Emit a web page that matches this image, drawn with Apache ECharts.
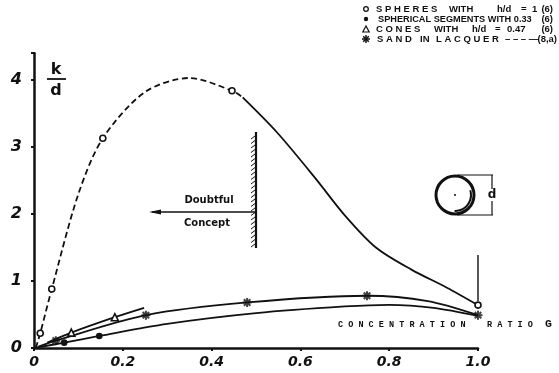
<!DOCTYPE html>
<html><head><meta charset="utf-8">
<script src="https://cdn.jsdelivr.net/npm/echarts@6/dist/echarts.min.js"></script>
<style>html,body{margin:0;padding:0;background:#fff}#c{width:559px;height:373px}</style>
</head><body><div id="c"></div>
<script>
// Spheres h/d = 1 : measured points and drawn curve
const sphereMarks = [[0.014,0.22],[0.04,0.88],[0.155,3.13],[0.446,3.84],[1.0,0.64]];
const sphereDashed = [[0.004,0],[0.014,0.22],[0.04,0.88],[0.1,2.3],[0.155,3.13],[0.25,3.82],[0.35,4.03],[0.446,3.84],[0.47,3.74]];
const sphereSolid = [[0.47,3.74],[0.547,3.22],[0.633,2.54],[0.7,1.98],[0.77,1.5],[0.85,1.17],[0.93,0.9],[1.0,0.64]];
// Spherical segments h/d = 0.33
const segmentMarks = [[0.068,0.08],[0.147,0.18]];
const segmentCurve = [[0,0],[0.068,0.08],[0.147,0.18],[0.3,0.36],[0.5,0.52],[0.7,0.62],[0.8,0.645],[0.9,0.6],[1.0,0.48]];
// Cones h/d = 0.47
const coneMarks = [[0.084,0.23],[0.182,0.46]];
const coneCurve = [[0.03,0.08],[0.084,0.23],[0.182,0.46],[0.248,0.6]];
// Sand in lacquer
const sandMarks = [[0.049,0.11],[0.252,0.49],[0.48,0.68],[0.75,0.78],[1.0,0.49]];
const sandCurve = [[0.01,0.02],[0.049,0.11],[0.252,0.49],[0.48,0.68],[0.75,0.78],[0.887,0.7],[1.0,0.49]];
// axis
const xTicks = [0,0.2,0.4,0.6,0.8,1.0];
const yTicks = [0,1,2,3,4];

const asterisk = 'path://M0,-5L0,5M-5,0L5,0M-3.6,-3.6L3.6,3.6M-3.6,3.6L3.6,-3.6';
const ink = '#111';
const lineSeries = (data, dashed) => ({type:'line', data, smooth:0.3, symbol:'none',
  lineStyle:{color:ink, width:1.8, type: dashed ? [6,3.5] : 'solid'}, silent:true, z:2});
const markSeries = (data, symbol, size, fill) => ({type:'scatter', data, symbol, symbolSize:size,
  itemStyle:{color:fill, borderColor:ink, borderWidth:1.6, opacity:1}, z:3, silent:true});

const chart = echarts.init(document.getElementById('c'), null, {renderer:'canvas'});
const hand = {fontFamily:'DejaVu Sans', fontStyle:'italic', fontWeight:'bold', color:ink, fontSize:14};
const lbl = {fontFamily:'Liberation Sans', fontWeight:'bold', fontSize:9.5, fill:ink};
const graphics = [];
const L = (x1,y1,x2,y2,w) => graphics.push({type:'line', shape:{x1,y1,x2,y2}, style:{stroke:ink, lineWidth:w||1.2}});
const T = (x,y,text,st,align) => graphics.push({type:'text', x, y, style:Object.assign({text, textAlign:align||'left', textVerticalAlign:'middle'}, st)});
// legend
[[376,'S P H E R E S'],[449,'WITH'],[497,'h/d'],[521,'='],[532,'1']].forEach(p => T(p[0],9,p[1],lbl));
T(378,19,'SPHERICAL SEGMENTS WITH 0.33',Object.assign({}, lbl, {fontSize:9.2}));
[[376,'C O N E S'],[434,'WITH'],[472,'h/d'],[495,'='],[507,'0.47']].forEach(p => T(p[0],29,p[1],lbl));
[[377,'S A N D'],[420,'IN'],[436,'L A C Q U E R'],[505,'– – – —']].forEach(p => T(p[0],39,p[1],lbl));
T(553,9,'(6)',lbl,'right'); T(553,19,'(6)',lbl,'right'); T(553,29,'(6)',lbl,'right'); T(557,39,'(8,a)',lbl,'right');
graphics.push({type:'circle', shape:{cx:366, cy:9, r:2.3}, style:{fill:'#fff', stroke:ink, lineWidth:1.3}});
graphics.push({type:'circle', shape:{cx:366, cy:19, r:2.2}, style:{fill:ink}});
graphics.push({type:'polygon', shape:{points:[[366,26],[362.8,32],[369.2,32]]}, style:{fill:'#fff', stroke:ink, lineWidth:1.2}});
L(366,35,366,43,1.5); L(362,39,370,39,1.5); L(363.2,36.2,368.8,41.8,1.5); L(363.2,41.8,368.8,36.2,1.5);
// k/d label
const big = {fontFamily:'DejaVu Sans', fontWeight:'bold', fontSize:16, fill:ink};
T(56,70,'k',big,'center');
L(47,79,66,79,1.8);
T(56,91,'d',big,'center');
// concentration ratio
const mono = {fontFamily:'Liberation Mono', fontWeight:'bold', fontSize:8.5, fill:ink};
T(338,325,'C O N C E N T R A T I O N',mono);
T(487,325,'R A T I O',mono);
T(545,324,'G',Object.assign({}, mono, {fontSize:11.5}));
// doubtful concept wall + arrow
L(256,132,256,248,2.2);
for (let y = 136; y < 248; y += 4.5) L(251, y+3, 255, y, 1);
L(152,212,255,212,1.6);
graphics.push({type:'polygon', shape:{points:[[149,212],[161,209.5],[161,214.5]]}, style:{fill:ink}});
const note = {fontFamily:'DejaVu Sans', fontWeight:'bold', fontSize:10, fill:ink};
T(209,200,'Doubtful',note,'center');
T(207,223,'Concept',note,'center');
// sphere sketch
graphics.push({type:'circle', shape:{cx:455, cy:195, r:19}, style:{fill:'#fff', stroke:ink, lineWidth:3}});
graphics.push({type:'arc', shape:{cx:455, cy:195, r:16, startAngle:-0.3, endAngle:1.6}, style:{stroke:ink, lineWidth:2, fill:null}});
graphics.push({type:'circle', shape:{cx:455, cy:195, r:1}, style:{fill:ink}});
L(457,175,493,175); L(457,215,493,215); L(492,175,492,215);
T(492,195,'d',{fontFamily:'DejaVu Sans', fontWeight:'bold', fontSize:12, fill:ink, backgroundColor:'#fff'},'center');
// vertical stroke above last sphere point
L(478,255,478,301,1.4);

chart.setOption({
  animation:false,
  backgroundColor:'#fff',
  grid:{left:34, right:81, top:53.2, bottom:25, containLabel:false},
  xAxis:{type:'value', min:0, max:1, interval:0.2,
    axisLine:{lineStyle:{color:ink, width:2.5}},
    axisTick:{show:true, length:3, lineStyle:{color:ink, width:2}},
    splitLine:{show:false},
    axisLabel:Object.assign({margin:7, formatter:v => xTicks.includes(+v.toFixed(1)) ? (v===0 ? '0' : v.toFixed(1)) : ''}, hand)},
  yAxis:{type:'value', min:0, max:4.4, interval:1,
    axisLine:{lineStyle:{color:ink, width:2.5}},
    axisTick:{show:true, length:3, lineStyle:{color:ink, width:2}},
    splitLine:{show:false},
    axisLabel:Object.assign({margin:12, formatter:v => yTicks.includes(v) ? String(v) : ''}, hand, {fontSize:16})},
  series:[
    lineSeries(sphereDashed, true),
    lineSeries(sphereSolid, false),
    lineSeries(segmentCurve, false),
    lineSeries(coneCurve, false),
    lineSeries(sandCurve, false),
    markSeries(sphereMarks, 'circle', 6, '#fff'),
    markSeries(segmentMarks, 'circle', 5, ink),
    markSeries(coneMarks, 'triangle', 7, '#fff'),
    Object.assign(markSeries(sandMarks, asterisk, 9, 'none'), {itemStyle:{color:'none', borderColor:ink, borderWidth:2}})
  ],
  graphic:graphics
});
</script></body></html>
